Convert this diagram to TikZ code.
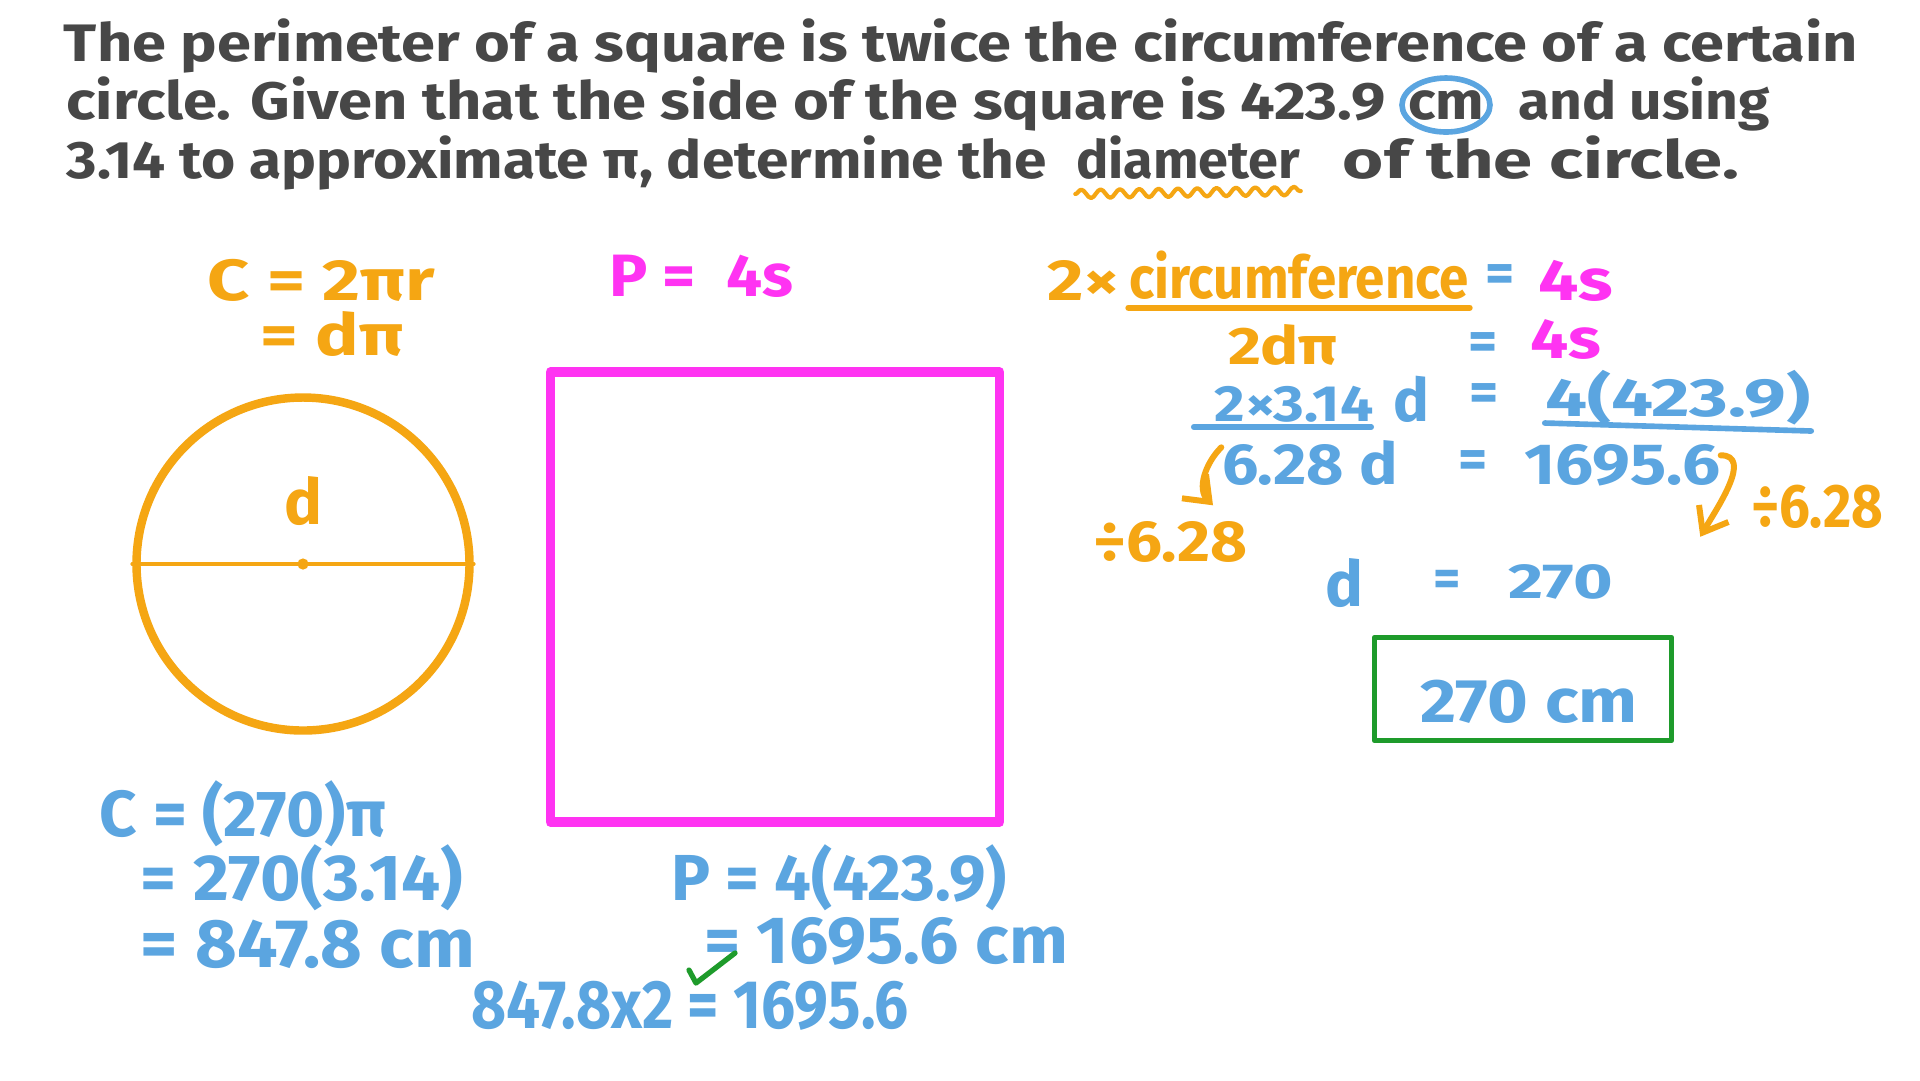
\documentclass[tikz,border=0pt]{standalone}
\usepackage{fontspec}
\setmainfont{Fira Sans}
\usetikzlibrary{arrows.meta,decorations.pathmorphing}

\definecolor{inkgrey}{HTML}{474747}
\definecolor{inkorange}{HTML}{F5A613}
\definecolor{inkpink}{HTML}{FF33F2}
\definecolor{inkblue}{HTML}{5BA5E0}
\definecolor{inkgreen}{HTML}{1E9B2B}

\newcommand{\sz}[1]{\fontsize{#1}{#1}\selectfont\bfseries}
\newcommand{\fitw}[2]{\resizebox{#1}{\height}{#2}}

\begin{document}
\begin{tikzpicture}[x=0.1mm,y=-0.1mm,
  every node/.style={inner sep=0pt,anchor=base},
  greytxt/.style={text=inkgrey,font=\sz{15}},
  orangetxt/.style={text=inkorange},
  pinktxt/.style={text=inkpink},
  bluetxt/.style={text=inkblue},
  orangepen/.style={draw=inkorange,line width=1.7pt,line cap=round,line join=round},
  bluepen/.style={draw=inkblue,line width=1.6pt,line cap=round},
  pinkpen/.style={draw=inkpink,line width=2.8pt,line join=round},
  greenpen/.style={draw=inkgreen,line width=1.5pt,line cap=round,line join=round},
  handarrow/.style={-{Straight Barb[length=2.2mm,width=3.4mm]}}]

  \useasboundingbox[fill=white] (0,0) rectangle (1920,1080);

  % question text
  \node[greytxt] (q1)   at (961,61)   {\fitw{179.4mm}{The perimeter of a square is twice the circumference of a certain}};
  \node[greytxt] (q2a)  at (726,119)  {\fitw{131.9mm}{circle. Given that the side of the square is 423.9}};
  \node[greytxt] (q2cm) at (1446,119) {\fitw{7.6mm}{cm}};
  \node[greytxt] (q2b)  at (1644,119) {\fitw{25.2mm}{and using}};
  \node[greytxt] (q3a)  at (557,178)  {\fitw{98mm}{3.14 to approximate π, determine the}};
  \node[greytxt] (q3d)  at (1188,178) {\fitw{22.4mm}{diameter}};
  \node[greytxt] (q3b)  at (1541,178) {\fitw{39.6mm}{of the circle.}};
  \draw[bluepen] (q2cm.center) ellipse [x radius=44,y radius=27];
  \draw[orangepen,line width=1.2pt,decorate,decoration={snake,amplitude=1.2pt,segment length=5.5pt}]
    ([yshift=-1.6mm]q3d.base west) -- ([yshift=-1.3mm]q3d.base east);

  % circle
  \node[orangepen,line width=2.4pt,circle,anchor=center,minimum size=33.3mm] (circ) at (303,564) {};
  \draw[orangepen,line width=1.1pt] (circ.west) -- (circ.east);
  \fill[inkorange] (circ.center) circle [radius=1.6pt];
  \node[orangetxt,font=\sz{18}] (dlab) at (303,524) {d};
  \node[orangetxt,font=\sz{16.5}] (cf1) at (321,300) {\fitw{22.7mm}{C = 2πr}};
  \node[orangetxt,font=\sz{16.5}] (cf2) at (332,355) {\fitw{14.3mm}{= dπ}};

  % square
  \node[pinkpen,anchor=center,minimum width=44.9mm,minimum height=45mm] (sq) at (775,597) {};
  \node[pinktxt,font=\sz{17}] (pf) at (701,296) {\fitw{18.4mm}{P =\ \ 4s}};

  % working
  \node[orangetxt,font=\sz{16.5}] (two)    at (1084,300) {\fitw{7.3mm}{2×}};
  \node[orangetxt,font=\sz{16.7}] (circum) at (1299,298) {\fitw{34mm}{circumference}};
  \node[bluetxt,font=\sz{16},anchor=center] (eq1) at (1500,279) {=};
  \node[pinktxt,font=\sz{16.5}] (fs1) at (1576,300) {\fitw{7.5mm}{4s}};
  \draw[orangepen] ([yshift=-0.8mm]circum.south west) -- ([yshift=-0.8mm]circum.south east);

  \node[orangetxt,font=\sz{15}] (tdp) at (1283,364) {\fitw{10.9mm}{2dπ}};
  \node[bluetxt,font=\sz{16},anchor=center] (eq2) at (1483,347) {=};
  \node[pinktxt,font=\sz{16}] (fs2) at (1566,358) {\fitw{7.1mm}{4s}};

  \node[bluetxt,font=\sz{14.5}] (twopi) at (1294,421) {\fitw{15.9mm}{2×3.14}};
  \node[bluetxt,font=\sz{17}]   (d1)    at (1411,421) {d};
  \node[bluetxt,font=\sz{16},anchor=center] (eq3) at (1484,398) {=};
  \node[bluetxt,font=\sz{15.3}] (side)  at (1678,416) {\fitw{26.5mm}{4(423.9)}};
  \draw[bluepen] ([xshift=-2mm,yshift=-0.6mm]twopi.base west) -- ([xshift=-0.3mm,yshift=-0.6mm]twopi.base east);
  \draw[bluepen] ([yshift=-0.7mm]side.base west) -- ([yshift=-1.5mm]side.base east);

  \node[bluetxt,font=\sz{16.5}] (lhs) at (1310,484) {\fitw{17.6mm}{6.28 d}};
  \node[bluetxt,font=\sz{16},anchor=center] (eq4) at (1473,465) {=};
  \node[bluetxt,font=\sz{16.5}] (rhs) at (1622,484) {\fitw{19.6mm}{1695.6}};
  \node[orangetxt,font=\sz{16.5}] (divl) at (1170,561) {\fitw{15.4mm}{÷6.28}};
  \node[orangetxt,font=\sz{17.5}] (divr) at (1817,527) {\fitw{13.2mm}{÷6.28}};
  \draw[orangepen,handarrow] ([yshift=-0.8mm]lhs.north west) to[out=225,in=135] ([xshift=4.3mm,yshift=1.5mm]divl.north);
  \draw[orangepen,handarrow] ([yshift=-1.2mm]rhs.north east) to[out=0,in=60] ([xshift=-5mm,yshift=-0.8mm]divr.south west);

  \node[bluetxt,font=\sz{18}] (dres) at (1344,606) {d};
  \node[bluetxt,font=\sz{15},anchor=center] (eq5) at (1447,583) {=};
  \node[bluetxt,font=\sz{14}] (res) at (1561,598) {\fitw{10.5mm}{270}};
  \node[greenpen,anchor=center,minimum width=29.7mm,minimum height=10.3mm] (ansbox) at (1523,689) {};
  \node[bluetxt,font=\sz{17.5}] (ans) at (1529,722) {\fitw{21.7mm}{270 cm}};

  % checks
  \node[bluetxt,font=\sz{18.5}] (cc1) at (243,836) {\fitw{28.6mm}{C = (270)π}};
  \node[bluetxt,font=\sz{18.5}] (cc2) at (302,900) {\fitw{32.2mm}{= 270(3.14)}};
  \node[bluetxt,font=\sz{19.5}] (cc3) at (308,967) {\fitw{33.4mm}{= 847.8 cm}};
  \node[bluetxt,font=\sz{18.5}] (pp1) at (839,900) {\fitw{33.6mm}{P = 4(423.9)}};
  \node[bluetxt,font=\sz{19}]   (pp2) at (886,963) {\fitw{36.4mm}{= 1695.6 cm}};
  \node[bluetxt,font=\sz{19.5}] (chk) at (690,1028) {\fitw{43.8mm}{847.8x2 = 1695.6}};
  \draw[greenpen] (689,970) -- (696,983) -- (735,953);
\end{tikzpicture}
\end{document}
